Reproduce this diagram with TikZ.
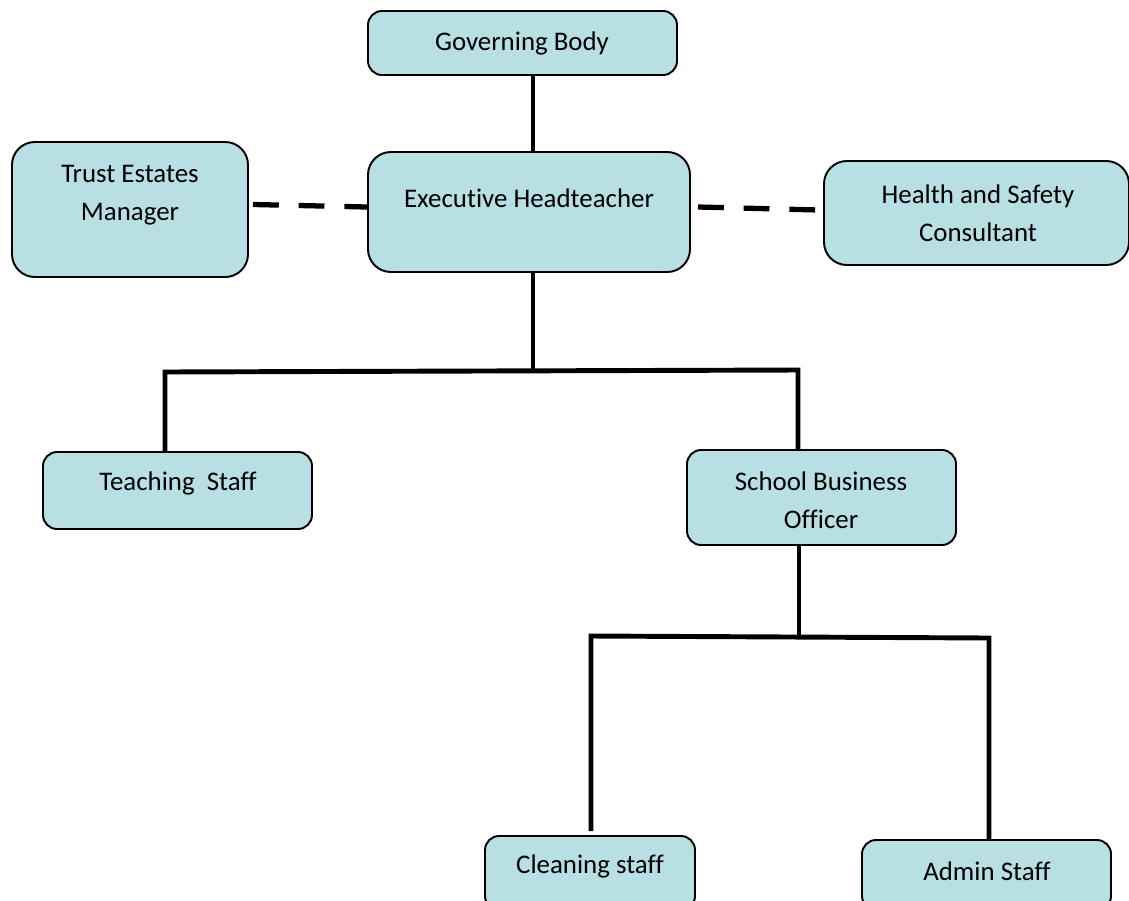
\documentclass[tikz,border=0pt]{standalone}
\usepackage{fontspec}
\setmainfont{Carlito}[Ligatures=NoCommon]
\usepackage{tikz}
\usetikzlibrary{fit, calc}
\definecolor{boxfill}{RGB}{184, 223, 227}
\definecolor{ink}{RGB}{0, 0, 0}
\tikzset{
    rolebox/.style={rectangle, rounded corners=8pt, draw=ink, line width=1.1pt, fill=boxfill, inner sep=0pt},
    bigbox/.style={rolebox, rounded corners=13pt},
    roletext/.style={align=center, font=\fontsize{15.3}{21.5}\selectfont, inner sep=0pt},
    link/.style={line width=2.8pt, ink},
    dashlink/.style={line width=3pt, ink, dash pattern=on 14.7pt off 11.3pt}
}
\begin{document}
\begin{tikzpicture}[x=0.02cm, y=-0.02cm]
                \useasboundingbox (0,0) rectangle (1129,900);
                \clip (0,0) rectangle (1129,900);
                \node[rolebox, fit={(368,11) (677,75)}] (gov) {};
                \node[bigbox, fit={(12,142) (248,277)}] (trust) {};
                \node[bigbox, fit={(368,152) (690,272)}] (exec) {};
                \node[bigbox, fit={(824,161) (1129,265)}] (safety) {};
                \node[rolebox, fit={(43,452) (312,529)}] (teach) {};
                \node[rolebox, fit={(687,450) (956,545)}] (sbo) {};
                \node[rolebox, fit={(485,836) (695,910)}] (clean) {};
                \node[rolebox, fit={(862,840) (1111,910)}] (admin) {};
                \node[roletext] (govtxt) at (522,43) {Governing Body};
                \node[roletext] (trusttxt) at (130,195) {Trust Estates\\Manager};
                \node[roletext] (exectxt) at (529,198) {Executive Headteacher};
                \node[roletext] (safetytxt) at (978,213) {Health and Safety\\Consultant};
                \node[roletext] (teachtxt) at (178,483) {Teaching\ \ Staff};
                \node[roletext] (sbotxt) at (821,500) {School Business\\Officer};
                \node[roletext] (cleantxt) at (590,866) {Cleaning staff};
                \node[roletext] (admintxt) at (987,871) {Admin Staff};
                % joints of the tree
                \coordinate (hubA) at (533,371);
                \coordinate (legL) at (165,372);
                \coordinate (legR) at (798,370);
                \coordinate (hubB) at (799,636);
                \coordinate (legBL) at (591,636);
                \coordinate (legBR) at (989,638);
                \draw[link] (gov.south -| hubA) -- (exec.north -| hubA);
                \draw[link] (exec.south -| hubA) -- (hubA);
                \draw[link] (teach.north -| legL) -- (legL) -- (legR) -- (sbo.north -| legR);
                \draw[link] (sbo.south -| hubB) -- (hubB);
                \draw[link] ($(clean.north -| legBL)+(0,-4)$) -- (legBL) -- (legBR) -- (admin.north -| legBR);
                \draw[dashlink] ($(trust.east)+(4,-5)$) -- ($(exec.west)+(0,-5)$);
                \draw[dashlink] ($(exec.east)+(7,-5)$) -- ($(safety.west)+(-4,-3)$);
            \end{tikzpicture}
\end{document}
